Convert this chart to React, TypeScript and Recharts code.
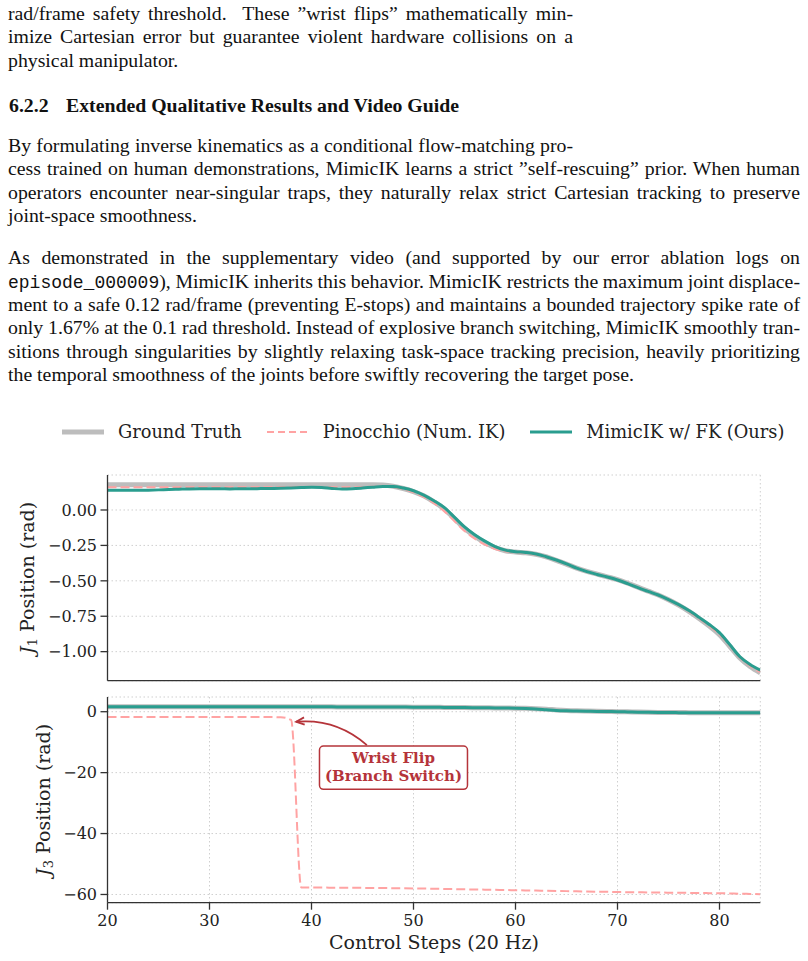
import React from 'react';
import { LineChart, Line, XAxis, YAxis, CartesianGrid, ReferenceDot } from 'recharts';

// control steps (20 Hz)
const steps = [
  20, 21, 22, 23, 24, 25, 26, 27, 28, 29,
  30, 31, 32, 33, 34, 35, 36, 37, 38, 39,
  40, 41, 42, 43, 44, 45, 46, 47, 48, 49,
  50, 51, 52, 53, 54, 55, 56, 57, 58, 59,
  60, 61, 62, 63, 64, 65, 66, 67, 68, 69,
  70, 71, 72, 73, 74, 75, 76, 77, 78, 79,
  80, 81, 82, 83, 84,
];

// J1 position (rad)
const j1Truth = [
  0.178, 0.178, 0.178, 0.178, 0.178, 0.178, 0.178, 0.178, 0.178, 0.178,
  0.178, 0.178, 0.178, 0.178, 0.178, 0.178, 0.178, 0.178, 0.178, 0.178,
  0.178, 0.178, 0.178, 0.178, 0.178, 0.178, 0.178, 0.176, 0.168, 0.152,
  0.130, 0.100, 0.058, 0.008, -0.060, -0.130, -0.185, -0.230, -0.265, -0.288,
  -0.297, -0.302, -0.312, -0.330, -0.355, -0.382, -0.410, -0.433, -0.453, -0.472,
  -0.492, -0.517, -0.545, -0.573, -0.600, -0.634, -0.672, -0.716, -0.766, -0.820,
  -0.880, -0.962, -1.045, -1.105, -1.150,
];
const j1Pinocchio = [
  0.160, 0.160, 0.160, 0.160, 0.160, 0.160, 0.160, 0.160, 0.160, 0.160,
  0.160, 0.160, 0.160, 0.160, 0.160, 0.160, 0.160, 0.160, 0.160, 0.160,
  0.160, 0.160, 0.160, 0.160, 0.160, 0.161, 0.164, 0.168, 0.163, 0.148,
  0.125, 0.092, 0.048, -0.008, -0.078, -0.148, -0.202, -0.244, -0.276, -0.292,
  -0.300, -0.305, -0.316, -0.334, -0.357, -0.384, -0.412, -0.435, -0.455, -0.474,
  -0.494, -0.519, -0.547, -0.575, -0.602, -0.636, -0.673, -0.716, -0.765, -0.818,
  -0.877, -0.958, -1.042, -1.100, -1.145,
];
const j1Mimic = [
  0.140, 0.139, 0.140, 0.139, 0.140, 0.142, 0.145, 0.147, 0.149, 0.150,
  0.150, 0.150, 0.149, 0.150, 0.150, 0.151, 0.152, 0.153, 0.155, 0.158,
  0.160, 0.158, 0.152, 0.148, 0.150, 0.155, 0.161, 0.166, 0.166, 0.155,
  0.136, 0.105, 0.065, 0.018, -0.050, -0.120, -0.175, -0.220, -0.258, -0.283,
  -0.294, -0.300, -0.310, -0.330, -0.353, -0.380, -0.410, -0.435, -0.455, -0.473,
  -0.494, -0.520, -0.548, -0.575, -0.600, -0.632, -0.668, -0.710, -0.758, -0.808,
  -0.866, -0.950, -1.036, -1.090, -1.130,
];

// J3 position (rad)
const j3Truth = [
  1.64, 1.64, 1.65, 1.65, 1.65, 1.65, 1.65, 1.64, 1.64, 1.64,
  1.64, 1.63, 1.63, 1.63, 1.62, 1.62, 1.62, 1.61, 1.61, 1.60,
  1.60, 1.59, 1.59, 1.58, 1.58, 1.57, 1.56, 1.55, 1.53, 1.52,
  1.50, 1.47, 1.45, 1.42, 1.39, 1.36, 1.32, 1.28, 1.24, 1.20,
  1.17, 1.10, 1.00, 0.85, 0.60, 0.40, 0.28, 0.20, 0.13, 0.07,
  0.02, -0.05, -0.12, -0.18, -0.23, -0.27, -0.29, -0.30, -0.31, -0.32,
  -0.32, -0.33, -0.33, -0.34, -0.34,
];
const j3Pinocchio = [
  -1.70, -1.70, -1.71, -1.71, -1.71, -1.72, -1.72, -1.72, -1.73, -1.73,
  -1.73, -1.74, -1.74, -1.74, -1.75, -1.75, -1.76, -1.82, -2.70, -57.70,
  -57.72, -57.74, -57.76, -57.78, -57.80, -57.83, -57.86, -57.90, -57.93, -57.96,
  -58.00, -58.05, -58.11, -58.18, -58.24, -58.30, -58.37, -58.42, -58.48, -58.55,
  -58.60, -58.66, -58.71, -58.78, -58.84, -58.90, -58.95, -59.02, -59.08, -59.14,
  -59.20, -59.24, -59.29, -59.32, -59.36, -59.40, -59.45, -59.48, -59.52, -59.56,
  -59.60, -59.67, -59.74, -59.82, -59.90,
];
const j3Mimic = [
  1.64, 1.64, 1.65, 1.65, 1.65, 1.65, 1.65, 1.64, 1.64, 1.64,
  1.64, 1.63, 1.63, 1.63, 1.62, 1.62, 1.62, 1.61, 1.61, 1.60,
  1.60, 1.59, 1.59, 1.58, 1.58, 1.57, 1.56, 1.55, 1.53, 1.52,
  1.50, 1.47, 1.45, 1.42, 1.39, 1.36, 1.32, 1.28, 1.24, 1.20,
  1.15, 1.05, 0.90, 0.65, 0.40, 0.28, 0.22, 0.16, 0.10, 0.05,
  0.00, -0.07, -0.14, -0.20, -0.25, -0.28, -0.30, -0.31, -0.32, -0.32,
  -0.33, -0.33, -0.33, -0.33, -0.33,
];

const xTicks = [20, 30, 40, 50, 60, 70, 80];
const j1Ticks = [0, -0.25, -0.5, -0.75, -1];
const j3Ticks = [0, -20, -40, -60];
const flipStep = 38.4;
const flipValue = -3.3;

const SERIES = [
  { key: 'truth', name: 'Ground Truth', color: '#bdbdbd', width: 5, dash: undefined as string | undefined },
  { key: 'pino', name: 'Pinocchio (Num. IK)', color: '#ffa3a3', width: 2, dash: '9 4' },
  { key: 'mimic', name: 'MimicIK w/ FK (Ours)', color: '#2a9d8f', width: 3, dash: undefined },
];

const j1Data = steps.map((s, i) => ({ step: s, truth: j1Truth[i], pino: j1Pinocchio[i], mimic: j1Mimic[i] }));
const j3Data = steps.map((s, i) => ({ step: s, truth: j3Truth[i], pino: j3Pinocchio[i], mimic: j3Mimic[i] }));

const PLOT_FONT = '"DejaVu Serif", serif';
const BODY_FONT = '"Liberation Serif", "Times New Roman", serif';
const INK = '#222';
const NOTE = '#b5343a';

const minus = (v: number, digits?: number) => {
  const s = digits === undefined ? String(Math.abs(v)) : Math.abs(v).toFixed(digits);
  return (v < 0 ? '\u2212' : '') + s;
};

const YTitle = ({ viewBox, sub, offsetX }: any) => {
  const cx = viewBox.x + offsetX;
  const cy = viewBox.y + viewBox.height / 2;
  return (
    <text x={cx} y={cy} transform={`rotate(-90 ${cx} ${cy})`} textAnchor="middle" dominantBaseline="central"
      fontFamily={PLOT_FONT} fontSize={19} fill={INK}>
      <tspan fontStyle="italic">J</tspan>
      <tspan fontSize={13} dy={5}>{sub}</tspan>
      <tspan dy={-5}>{' Position (rad)'}</tspan>
    </text>
  );
};

const XTitle = ({ viewBox }: any) => (
  <text x={viewBox.x + viewBox.width / 2} y={viewBox.y + 46.5} textAnchor="middle"
    fontFamily={PLOT_FONT} fontSize={19} fill={INK}>
    Control Steps (20 Hz)
  </text>
);

// arrow + boxed note, drawn relative to the flip point
const FlipNote = ({ cx, cy }: any) => {
  if (cx == null || cy == null) return null;
  const sx = cx + 71.7, sy = cy + 23.3;
  const qx = cx + 41, qy = cy - 3.6;
  const tx = cx + 1, ty = cy;
  const ang = Math.atan2(ty - qy, tx - qx);
  const head = (da: number) => `${tx - 9 * Math.cos(ang + da)},${ty - 9 * Math.sin(ang + da)}`;
  return (
    <g>
      <path d={`M${sx},${sy} Q${qx},${qy} ${tx},${ty}`} fill="none" stroke={NOTE} strokeWidth={1.8} />
      <polyline points={`${head(0.42)} ${tx},${ty} ${head(-0.42)}`} fill="none" stroke={NOTE} strokeWidth={1.8} />
      <rect x={cx + 24.3} y={cy + 24.3} width={148} height={43.3} rx={4} fill="#fff" stroke={NOTE} strokeWidth={1.5} />
      <text x={cx + 98.3} textAnchor="middle" fontFamily={PLOT_FONT} fontWeight="bold" fontSize={15} fill={NOTE}>
        <tspan x={cx + 98.3} y={cy + 41.3}>Wrist Flip</tspan>
        <tspan x={cx + 98.3} y={cy + 59}>(Branch Switch)</tspan>
      </text>
    </g>
  );
};

const axisStroke = { stroke: '#333', strokeWidth: 1.3 };

const renderLines = () =>
  SERIES.map((s) => (
    <Line key={s.key} type="monotone" dataKey={s.key} stroke={s.color} strokeWidth={s.width}
      strokeDasharray={s.dash} dot={false} activeDot={false} strokeLinejoin="round"
      isAnimationActive={false} />
  ));

const Legend = () => (
  <div style={{ position: 'absolute', left: 62, top: 420, display: 'flex', alignItems: 'center',
    fontFamily: PLOT_FONT, fontSize: 17.8, color: INK, whiteSpace: 'nowrap' }}>
    {SERIES.map((s, i) => (
      <div key={s.key} style={{ display: 'flex', alignItems: 'center', marginLeft: i === 0 ? 0 : 25 }}>
        <svg width={42} height={24} style={{ display: 'block' }}>
          <line x1={0} x2={42} y1={12} y2={12} stroke={s.color} strokeWidth={s.width}
            strokeDasharray={s.dash ? '7 4' : undefined} />
        </svg>
        <span style={{ marginLeft: 14, lineHeight: '24px' }}>{s.name}</span>
      </div>
    ))}
  </div>
);

const FS = 19.8;
const ASC = 0.8375 * FS; // baseline offset for Liberation Serif at line-height 1

const Row = ({ baseline, width, justify, children, bold, left = 8 }: any) => (
  <div style={{
    position: 'absolute', left, top: baseline - ASC, width, fontSize: FS, lineHeight: `${FS}px`,
    fontFamily: BODY_FONT, color: '#111', fontWeight: bold ? 'bold' : 'normal',
    textAlign: justify ? 'justify' : 'left', textAlignLast: justify ? 'justify' : 'left',
    wordSpacing: justify ? -2 : 0, whiteSpace: 'normal',
  } as React.CSSProperties}>
    {children}
  </div>
);

const TT = ({ children }: any) => (
  <span style={{ fontFamily: '"Liberation Mono", "DejaVu Sans Mono", monospace', fontSize: 18 }}>{children}</span>
);

const Text = () => (
  <>
    <Row baseline={20.5} width={565} justify>rad/frame safety threshold.&nbsp; These ”wrist flips” mathematically min-</Row>
    <Row baseline={43.8} width={565} justify>imize Cartesian error but guarantee violent hardware collisions on a</Row>
    <Row baseline={67.1} width={565}>physical manipulator.</Row>

    <Row baseline={112.5} width={60} bold left={9}>6.2.2</Row>
    <Row baseline={112.5} width={520} bold left={66}>Extended Qualitative Results and Video Guide</Row>

    <Row baseline={152.5} width={565} justify>By formulating inverse kinematics as a conditional flow-matching pro-</Row>
    <Row baseline={175.8} width={792} justify>cess trained on human demonstrations, MimicIK learns a strict ”self-rescuing” prior. When human</Row>
    <Row baseline={199.1} width={792} justify>operators encounter near-singular traps, they naturally relax strict Cartesian tracking to preserve</Row>
    <Row baseline={222.4} width={792}>joint-space smoothness.</Row>

    <Row baseline={265} width={792} justify>As demonstrated in the supplementary video (and supported by our error ablation logs on</Row>
    <Row baseline={288.3} width={792} justify><TT>episode_000009</TT>), MimicIK inherits this behavior. MimicIK restricts the maximum joint displace-</Row>
    <Row baseline={311.6} width={792} justify>ment to a safe 0.12 rad/frame (preventing E-stops) and maintains a bounded trajectory spike rate of</Row>
    <Row baseline={334.9} width={792} justify>only 1.67% at the 0.1 rad threshold. Instead of explosive branch switching, MimicIK smoothly tran-</Row>
    <Row baseline={358.2} width={792} justify>sitions through singularities by slightly relaxing task-space tracking precision, heavily prioritizing</Row>
    <Row baseline={381.5} width={792}>the temporal smoothness of the joints before swiftly recovering the target pose.</Row>
  </>
);

const tickStyle = { fill: INK, fontSize: 16, fontFamily: PLOT_FONT };

export default function App() {
  return (
    <div style={{ position: 'absolute', left: 0, top: 0, width: 808, height: 961, background: '#fff', overflow: 'hidden' }}>
      <Text />
      <Legend />

      <div style={{ position: 'absolute', left: 0, top: 460 }}>
        <LineChart width={808} height={240} data={j1Data} margin={{ top: 15, right: 47.7, left: 0, bottom: 0 }}>
          <CartesianGrid stroke="#cfcfcf" strokeDasharray="1.5 2.5" />
          <XAxis type="number" dataKey="step" domain={[20, 84]} ticks={xTicks} height={19.3}
            tick={false} tickSize={7} axisLine={axisStroke} tickLine={axisStroke} allowDataOverflow />
          <YAxis type="number" domain={[-1.205, 0.247]} ticks={j1Ticks} width={107.5} tickSize={7} tickMargin={3.5}
            tickFormatter={(v: number) => minus(v, 2)} tick={tickStyle} axisLine={axisStroke} tickLine={axisStroke}
            allowDataOverflow label={(p: any) => <YTitle {...p} sub="1" offsetX={27} />} />
          {renderLines()}
        </LineChart>
      </div>

      <div style={{ position: 'absolute', left: 0, top: 690 }}>
        <LineChart width={808} height={271} data={j3Data} margin={{ top: 7, right: 47.7, left: 0, bottom: 0 }}>
          <CartesianGrid stroke="#cfcfcf" strokeDasharray="1.5 2.5" />
          <XAxis type="number" dataKey="step" domain={[20, 84]} ticks={xTicks} height={58.3}
            tick={tickStyle} tickSize={7} tickMargin={5} axisLine={axisStroke} tickLine={axisStroke}
            allowDataOverflow label={(p: any) => <XTitle {...p} />} />
          <YAxis type="number" domain={[-62.7, 4.83]} ticks={j3Ticks} width={107.5} tickSize={7} tickMargin={3.5}
            tickFormatter={(v: number) => minus(v)} tick={tickStyle} axisLine={axisStroke} tickLine={axisStroke}
            allowDataOverflow label={(p: any) => <YTitle {...p} sub="3" offsetX={43} />} />
          {renderLines()}
          <ReferenceDot x={flipStep} y={flipValue} r={0} ifOverflow="visible"
            shape={(p: any) => <FlipNote cx={p.cx} cy={p.cy} />} />
        </LineChart>
      </div>
    </div>
  );
}
